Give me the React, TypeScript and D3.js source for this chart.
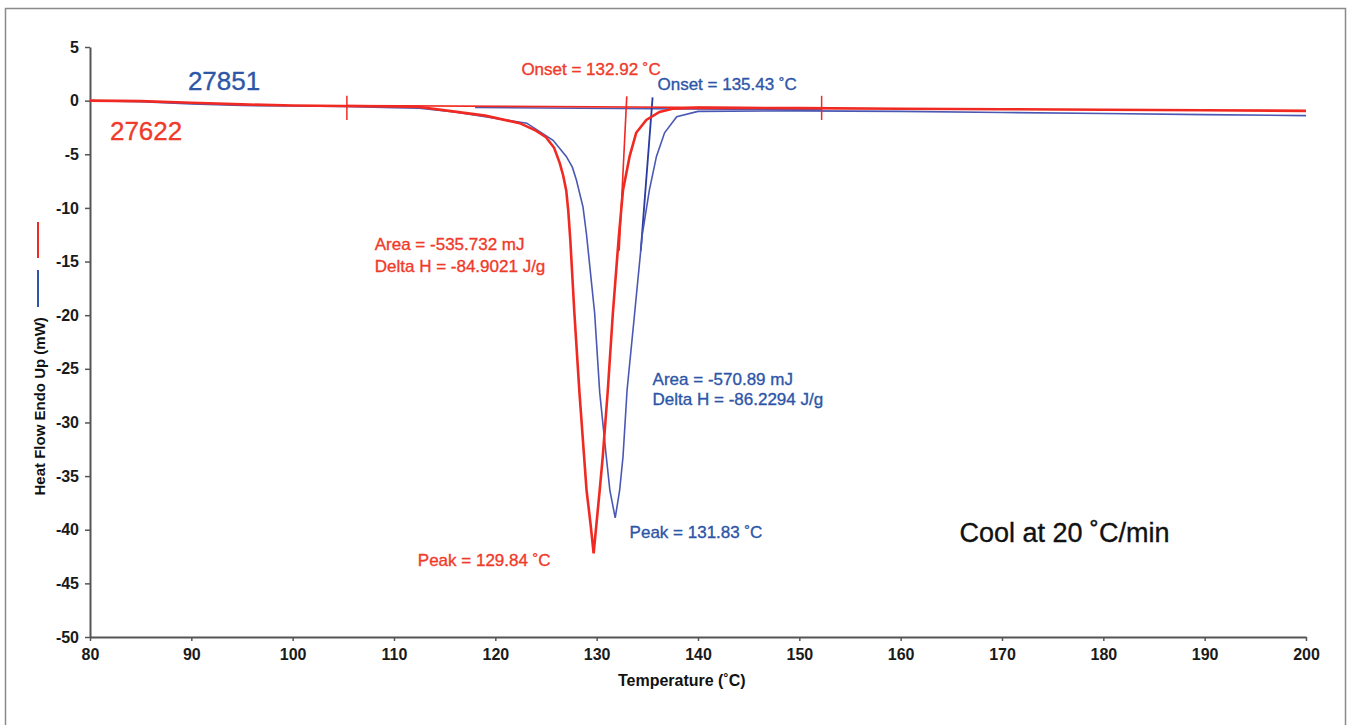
import React, { useEffect, useRef } from 'react';
import * as d3 from 'd3';

// DSC cooling scans, temperature (°C) vs heat flow (mW)
const redTemp = [80, 85, 90, 95, 100, 105, 110, 112.5, 115.8, 119, 122.4, 124, 125, 125.8, 126.35, 126.7, 127, 127.2, 127.4, 127.8, 128.3, 129, 129.4, 129.7, 130.3, 130.6, 131.1, 131.6, 132.2, 132.6, 133.25, 133.9, 134.9, 136.2, 137.5, 140, 150, 160, 170, 180, 190, 200];
const redFlow = [0, -0.05, -0.2, -0.35, -0.45, -0.5, -0.55, -0.6, -1.0, -1.4, -2.1, -2.8, -3.4, -4.4, -5.8, -7.0, -8.4, -10.3, -13, -19.8, -27.2, -36.3, -39.5, -42.2, -36.3, -33.2, -27, -19.8, -12.5, -8.35, -5.2, -3.0, -1.8, -1.05, -0.75, -0.65, -0.7, -0.75, -0.8, -0.85, -0.9, -0.95];

const blueTemp = [80, 85, 90, 95, 100, 105, 110, 112.5, 116, 119, 123.1, 125.7, 127, 127.6, 128, 128.65, 129, 129.8, 130.3, 130.95, 131.3, 131.83, 132.27, 132.6, 133.0, 133.75, 134.5, 135.2, 135.9, 136.7, 137.9, 140, 150, 160, 170, 180, 190, 200];
const blueFlow = [0, -0.1, -0.3, -0.45, -0.5, -0.55, -0.65, -0.7, -1.05, -1.5, -2.1, -3.7, -5.2, -6.2, -7.4, -9.9, -12.5, -19.8, -27.2, -33.2, -36.3, -38.9, -36.3, -33.2, -27, -19.8, -12.5, -8.35, -5.2, -3.0, -1.5, -1.0, -0.95, -1.0, -1.1, -1.2, -1.3, -1.4];

// integration baselines and onset tangents
const redBaseline = [[105.35, -0.45], [152.2, -0.7]];
const blueBaseline = [[118, -0.65], [152.2, -0.85]];
const redTangent = [[132.97, 0.4], [132.22, -14]];
const blueTangent = [[135.52, 0.3], [134.35, -14]];
const limitMarks = [105.35, 152.2];

const xTicks = [80, 90, 100, 110, 120, 130, 140, 150, 160, 170, 180, 190, 200];
const yTicks = [5, 0, -5, -10, -15, -20, -25, -30, -35, -40, -45, -50];

const RED = '#f02a22';
const BLUE_LINE = '#4a58b4';
const BLUE_TEXT = '#2d56a8';
const RED_TEXT = '#f03a2a';

const labels = [
  { text: '27851', t: 89.66, v: 0.97, color: BLUE_TEXT, size: 26 },
  { text: '27622', t: 81.97, v: -3.69, color: RED_TEXT, size: 26 },
  { text: 'Onset = 132.92 ˚C', t: 122.57, v: 2.37, color: RED_TEXT, size: 17 },
  { text: 'Onset = 135.43 ˚C', t: 136.0, v: 1.03, color: BLUE_TEXT, size: 17 },
  { text: 'Area = -535.732 mJ', t: 108.1, v: -13.94, color: RED_TEXT, size: 17 },
  { text: 'Delta H = -84.9021 J/g', t: 108.1, v: -15.96, color: RED_TEXT, size: 17 },
  { text: 'Area = -570.89 mJ', t: 135.52, v: -26.5, color: BLUE_TEXT, size: 17 },
  { text: 'Delta H = -86.2294 J/g', t: 135.52, v: -28.4, color: BLUE_TEXT, size: 17 },
  { text: 'Peak = 131.83 ˚C', t: 133.25, v: -40.8, color: BLUE_TEXT, size: 17 },
  { text: 'Peak = 129.84 ˚C', t: 112.35, v: -43.4, color: RED_TEXT, size: 17 },
  { text: 'Cool at 20 ˚C/min', t: 165.8, v: -41.1, color: '#111', size: 27 },
];

function App() {
  const svgRef = useRef(null);
  const width = 1351;
  const height = 725;

  useEffect(() => {
    const svg = d3.select(svgRef.current);
    svg.selectAll('*').remove();

    const margin = { left: 90, right: 45, top: 47, bottom: 88 };
    const x = d3.scaleLinear().domain([80, 200]).range([margin.left, width - margin.right]);
    const y = d3.scaleLinear().domain([-50, 5]).range([height - margin.bottom, margin.top]);
    const font = '"Liberation Sans", Arial, Helvetica, sans-serif';

    // outer frame
    svg.append('rect')
      .attr('x', 5.5).attr('y', 8.5)
      .attr('width', width - 11).attr('height', height + 10)
      .attr('fill', 'none').attr('stroke', '#8a8a8a').attr('stroke-width', 1.5);

    // axes
    const xAxis = svg.append('g')
      .attr('transform', `translate(0,${y(-50)})`)
      .call(d3.axisBottom(x).tickValues(xTicks).tickFormat(d => String(d)).tickSize(4).tickPadding(8).tickSizeOuter(0));
    const yAxis = svg.append('g')
      .attr('transform', `translate(${x(80)},0)`)
      .call(d3.axisLeft(y).tickValues(yTicks).tickFormat(d => String(d)).tickSize(5).tickPadding(6).tickSizeOuter(0));

    [xAxis, yAxis].forEach(g => {
      g.select('.domain').attr('stroke', '#555').attr('stroke-width', 2);
      g.selectAll('.tick line').attr('stroke', '#555').attr('stroke-width', 1.5);
      g.selectAll('.tick text')
        .attr('fill', '#1a1a1a')
        .style('font-family', font)
        .style('font-size', '16px')
        .style('font-weight', 'bold');
    });

    svg.append('text')
      .attr('x', x(138.4))
      .attr('y', 686)
      .attr('text-anchor', 'middle')
      .style('font-family', font).style('font-size', '16px').style('font-weight', 'bold')
      .attr('fill', '#111')
      .text('Temperature (˚C)');

    svg.append('text')
      .attr('transform', `translate(45,${y(-28.5)}) rotate(-90)`)
      .attr('text-anchor', 'middle')
      .style('font-family', font).style('font-size', '15px').style('font-weight', 'bold')
      .attr('fill', '#111')
      .text('Heat Flow Endo Up (mW)');

    // small legend swatches beside the y title
    svg.append('line').attr('x1', 38).attr('x2', 38).attr('y1', 222).attr('y2', 258)
      .attr('stroke', RED).attr('stroke-width', 2);
    svg.append('line').attr('x1', 38).attr('x2', 38).attr('y1', 270).attr('y2', 307)
      .attr('stroke', BLUE_TEXT).attr('stroke-width', 2);

    const line = d3.line()
      .x(d => x(d[0]))
      .y(d => y(d[1]))
      .curve(d3.curveLinear);

    const redData = redTemp.map((t, i) => [t, redFlow[i]]);
    const blueData = blueTemp.map((t, i) => [t, blueFlow[i]]);

    // baselines + tangents
    svg.append('path').datum(blueBaseline).attr('d', line)
      .attr('fill', 'none').attr('stroke', BLUE_LINE).attr('stroke-width', 1.5);
    svg.append('path').datum(blueTangent).attr('d', line)
      .attr('fill', 'none').attr('stroke', '#2a3aa0').attr('stroke-width', 1.8);

    svg.append('path').datum(blueData).attr('d', line)
      .attr('fill', 'none').attr('stroke', BLUE_LINE).attr('stroke-width', 1.6)
      .attr('stroke-linejoin', 'miter');

    svg.append('path').datum(redBaseline).attr('d', line)
      .attr('fill', 'none').attr('stroke', RED).attr('stroke-width', 1.6);
    svg.append('path').datum(redTangent).attr('d', line)
      .attr('fill', 'none').attr('stroke', RED).attr('stroke-width', 1.6);

    svg.append('path').datum(redData).attr('d', line)
      .attr('fill', 'none').attr('stroke', RED).attr('stroke-width', 2.6)
      .attr('stroke-linejoin', 'miter');

    // partial area limit marks
    svg.selectAll('.limit')
      .data(limitMarks)
      .enter().append('line')
      .attr('x1', d => x(d)).attr('x2', d => x(d))
      .attr('y1', y(0.45)).attr('y2', y(-1.8))
      .attr('stroke', RED).attr('stroke-width', 1.5);

    // annotations
    svg.selectAll('.label')
      .data(labels)
      .enter().append('text')
      .attr('x', d => x(d.t))
      .attr('y', d => y(d.v))
      .attr('fill', d => d.color)
      .attr('stroke', d => d.color)
      .attr('stroke-width', 0.35)
      .style('font-family', font)
      .style('font-size', d => `${d.size}px`)
      .text(d => d.text);
  }, []);

  return (
    <div style={{ position: 'absolute', left: 0, top: 0, width, height, background: '#fff' }}>
      <svg ref={svgRef} width={width} height={height}></svg>
    </div>
  );
}

export default App;
